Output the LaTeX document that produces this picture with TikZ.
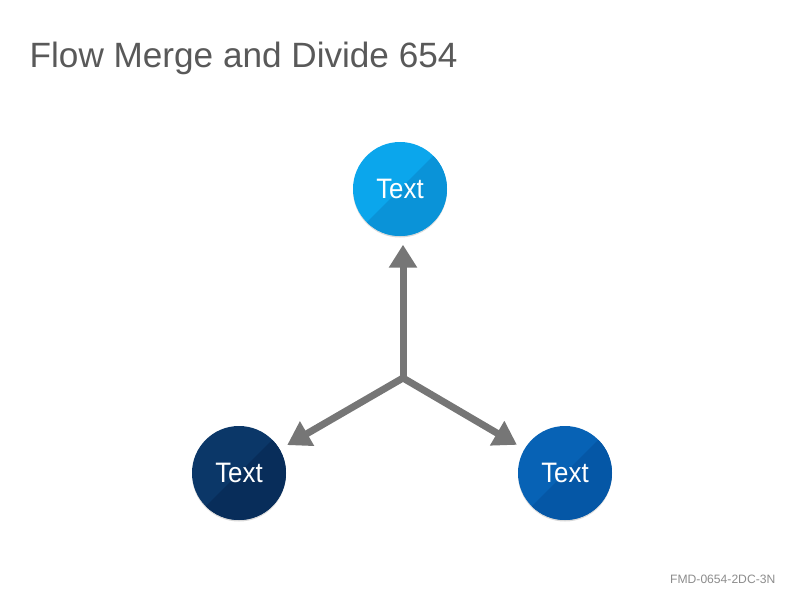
\documentclass[tikz,border=0pt]{standalone}
\usepackage{fontspec}
\setmainfont{Liberation Sans}
\newfontfamily\narrowfont[FakeStretch=0.92]{Liberation Sans}
\usetikzlibrary{arrows.meta,shadows}

\definecolor{titlegray}{HTML}{595959}
\definecolor{codegray}{HTML}{8C8C8C}
\definecolor{arrowgray}{HTML}{767676}
\definecolor{skyblue}{HTML}{0BA6EC}
\definecolor{skyshade}{HTML}{0A93D8}
\definecolor{navyblue}{HTML}{0B3768}
\definecolor{navyshade}{HTML}{082D5A}
\definecolor{midblue}{HTML}{0762B5}
\definecolor{midshade}{HTML}{0557A6}

\tikzset{
  dot/.style={circle, minimum size=0.94cm, inner sep=0pt, text=white,
    font=\narrowfont\fontsize{8}{9}\selectfont,
    drop shadow={shadow xshift=0pt, shadow yshift=-0.015cm, opacity=0.15, fill=black}},
  halfshade/.style={path picture={
    \fill[#1] ([shift={(-1,-1)}]path picture bounding box.center)
      -- ++(2,2) -- ++(0,-2) -- cycle;}},
  flow/.style={draw=arrowgray, line width=0.07cm, line cap=round,
    -{Triangle[width=0.27cm,length=0.23cm]}, shorten >=0.08cm}
}

\begin{document}
\begin{tikzpicture}
	\useasboundingbox (0,0) rectangle (8,6);
	\node[anchor=base west, inner sep=0pt, text=titlegray, font=\fontsize{10}{12}\selectfont] (title) at (0.29,5.32) {Flow Merge and Divide 654};
	\node[anchor=base east, inner sep=0pt, text=codegray, font=\fontsize{3.45}{4}\selectfont] (code) at (7.76,0.167) {FMD-0654-2DC-3N};
	\node[dot, fill=skyblue, halfshade=skyshade] (top) at (4.00,4.11) {Text};
	\node[dot, fill=navyblue, halfshade=navyshade] (lft) at (2.39,1.27) {Text};
	\node[dot, fill=midblue, halfshade=midshade] (rgt) at (5.65,1.27) {Text};
	\coordinate (j) at (4.03,2.22);
	\draw[flow] (j) -- (j |- top.south);
	\draw[flow] (j) -- (lft);
	\draw[flow] (j) -- (rgt);
\end{tikzpicture}
\end{document}
